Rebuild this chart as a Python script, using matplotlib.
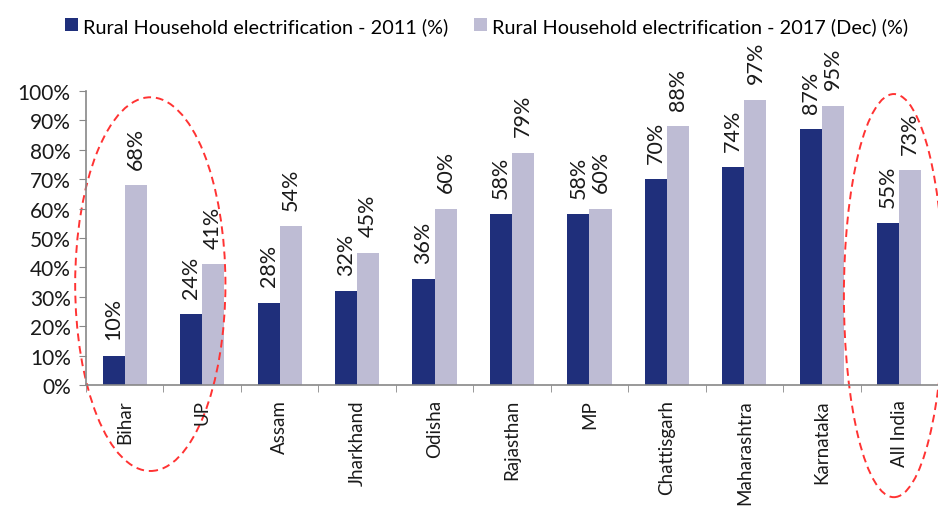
import matplotlib.pyplot as plt
import numpy as np
from matplotlib.patches import Ellipse

plt.rcParams['font.family'] = ['Lato', 'DejaVu Sans']

# data
states = ['Bihar', 'UP', 'Assam', 'Jharkhand', 'Odisha', 'Rajasthan', 'MP',
          'Chattisgarh', 'Maharashtra', 'Karnataka', 'All India']
elec_2011 = [10, 24, 28, 32, 36, 58, 58, 70, 74, 87, 55]
elec_2017 = [68, 41, 54, 45, 60, 79, 60, 88, 97, 95, 73]
label_2011 = 'Rural Household electrification - 2011 (%)'
label_2017 = 'Rural Household electrification - 2017 (Dec) (%)'

dark = '#1F2F7B'
light = '#BEBCD4'
txt = '#1A1A1A'

fig = plt.figure(figsize=(9.38, 5.1), dpi=100)
ax = fig.add_axes([0.0917, 0.243, 0.9083, 0.577])

x = np.arange(len(states))
w = 0.285
b1 = ax.bar(x - w / 2, np.array(elec_2011) / 100, w, color=dark, label=label_2011)
b2 = ax.bar(x + w / 2, np.array(elec_2017) / 100, w, color=light, label=label_2017)

for bars, vals in [(b1, elec_2011), (b2, elec_2017)]:
    for r, v in zip(bars, vals):
        ax.text(r.get_x() + r.get_width() / 2, r.get_height() + 0.055, f'{v}%',
                rotation=90, ha='center', va='bottom', fontsize=15.5, color=txt)

ax.set_xlim(-0.5, len(states) - 0.5)
ax.set_ylim(0, 1)
ax.set_yticks(np.arange(0, 1.01, 0.1))
ax.set_yticklabels([f'{int(round(t * 100))}%' for t in np.arange(0, 1.01, 0.1)],
                   fontsize=15, color=txt)
ax.set_xticks(x)
ax.set_xticklabels(states, rotation=90, fontsize=13.5, color=txt)
ax.tick_params(axis='x', which='major', length=0, pad=10)
ax.set_xticks(np.arange(-0.5, len(states), 1), minor=True)
ax.tick_params(axis='x', which='minor', length=5, color='#888888')
ax.tick_params(axis='y', length=5, color='#888888', pad=6)

for s in ['top', 'right']:
    ax.spines[s].set_visible(False)
for s in ['left', 'bottom']:
    ax.spines[s].set_color('#888888')
    ax.spines[s].set_linewidth(1.2)

# red dashed ellipses highlighting Bihar/UP and All India
for cx, cy, ew, eh in [(0.33, 0.343, 1.94, 1.27), (9.93, 0.304, 1.29, 1.37)]:
    ax.add_patch(Ellipse((cx, cy), ew, eh, fill=False, edgecolor='#FF3333',
                         linestyle=(0, (4, 2.5)), linewidth=1.4, clip_on=False))

fig.legend(handles=[b1, b2], loc='upper left', bbox_to_anchor=(0.05, 1.0),
           ncol=2, frameon=False, fontsize=14.3, handlelength=0.65, handleheight=0.65,
           handletextpad=0.25, columnspacing=1.3)

fig.savefig('out.png', dpi=100)
